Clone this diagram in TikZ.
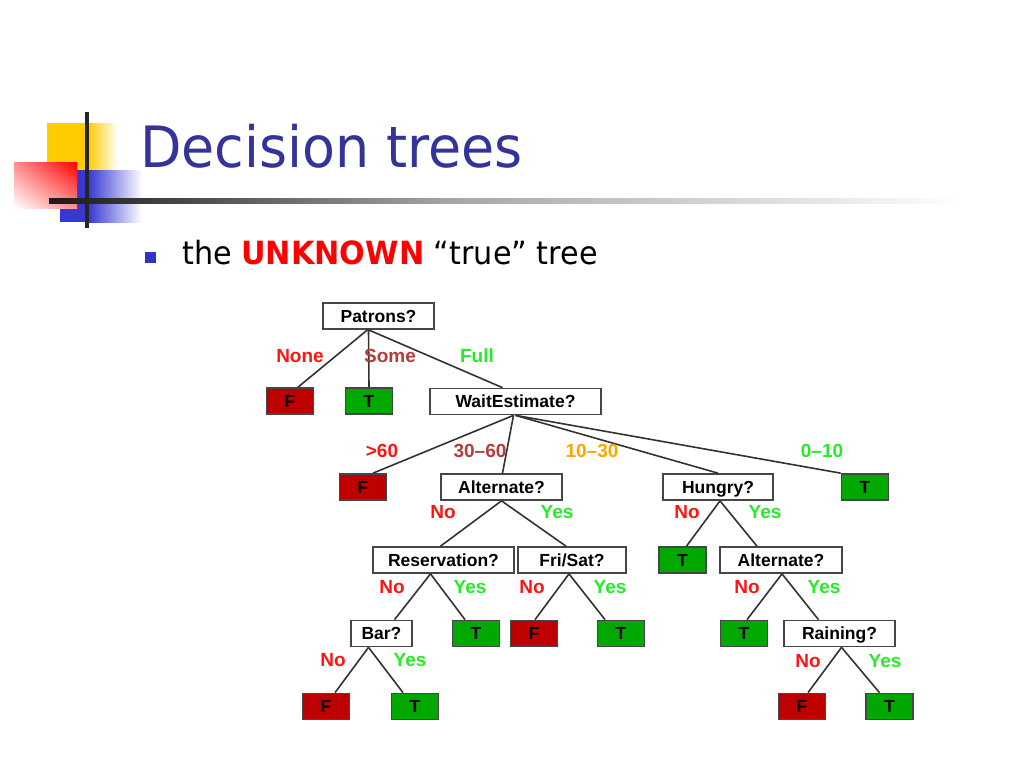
\documentclass[tikz,border=0pt]{standalone}
\usepackage{fontspec}
\usetikzlibrary{shadings}
\setmainfont{Liberation Sans}
\newfontfamily\slidefont[FakeStretch=1.05]{DejaVu Sans Condensed}
\definecolor{leafred}{RGB}{190,0,0}
\definecolor{leafgreen}{RGB}{0,168,0}
\definecolor{boxgray}{RGB}{70,70,70}
\definecolor{edgegray}{RGB}{50,50,50}
\definecolor{labred}{RGB}{255,20,20}
\definecolor{labgreen}{RGB}{40,235,40}
\definecolor{labbrown}{RGB}{180,60,60}
\definecolor{laborange}{RGB}{255,165,0}
\definecolor{titleblue}{RGB}{51,51,153}
\definecolor{bulletblue}{RGB}{51,51,204}
\definecolor{decoyellow}{RGB}{255,204,0}
\definecolor{decoblue}{RGB}{55,55,210}

\begin{document}
\begin{tikzpicture}[x=1pt,y=-1pt,
        box/.style={draw=boxgray,line width=1.7pt,fill=white,minimum height=26pt,inner sep=0pt,text height=12.5pt,text depth=0pt,font=\fontsize{17.5}{20}\selectfont\bfseries},
        leaf_F/.style={box,fill=leafred,minimum width=47pt},
        leaf_T/.style={box,fill=leafgreen,minimum width=47pt},
        lab/.style={inner sep=0pt,font=\fontsize{19}{22}\selectfont\bfseries},
        edge/.style={draw=edgegray,line width=1.6pt}]
        \useasboundingbox (0,0) rectangle (1024,768);
        \fill[decoyellow] (47,123) rectangle (88,185);
        \shade[left color=decoyellow,right color=white] (88,123) rectangle (118,185);
        \fill[decoblue] (60,170) rectangle (88,222);
        \shade[left color=decoblue,right color=white] (88,170) rectangle (142,222);
        \shade[upper left=red!45,upper right=red,lower left=white,lower right=red!45] (14,162) rectangle (77,208);
        \shade[left color=black!90,right color=black!35] (49,198) rectangle (450,203);
        \shade[left color=black!35,right color=white] (450,198) rectangle (962,203);
        \fill[black!85] (85,112) rectangle (89,228);
        \node[anchor=base west,inner sep=0pt,text=titleblue,font=\slidefont\fontsize{57}{60}\selectfont] (Title) at (140,167) {Decision trees};
        \fill[bulletblue] (145,252) rectangle (156,263);
        \node[anchor=base west,inner sep=0pt,font=\slidefont\fontsize{32}{36}\selectfont] (Bullet) at (182,264) {the \textcolor{red}{\bfseries UNKNOWN} “true” tree};
        \node[box,minimum width=111pt] (Patrons) at (378.5,316) {Patrons?};
        \node[leaf_F] (F_none) at (290,401) {F};
        \node[leaf_T] (T_some) at (369,401) {T};
        \node[box,minimum width=171pt] (Wait_estimate) at (515.5,401.5) {WaitEstimate?};
        \node[leaf_F] (F_over60) at (363,487) {F};
        \node[box,minimum width=121pt] (Alternate) at (501.5,487) {Alternate?};
        \node[box,minimum width=110pt] (Hungry) at (718,487) {Hungry?};
        \node[leaf_T] (T_under10) at (865,487) {T};
        \node[box,minimum width=141pt] (Reservation) at (443.5,560) {Reservation?};
        \node[box,minimum width=108pt] (Fri_sat) at (572,560) {Fri/Sat?};
        \node[leaf_T] (T_hungry) at (682.5,560) {T};
        \node[box,minimum width=122pt] (Alternate_two) at (781,560) {Alternate?};
        \node[box,minimum width=61pt] (Bar) at (381.5,633.5) {Bar?};
        \node[leaf_T] (T_reservation) at (476,633.5) {T};
        \node[leaf_F] (F_fri_sat) at (534,633.5) {F};
        \node[leaf_T] (T_fri_sat) at (621,633.5) {T};
        \node[leaf_T] (T_alternate) at (744,633.5) {T};
        \node[box,minimum width=111pt] (Raining) at (839.5,633.5) {Raining?};
        \node[leaf_F] (F_bar) at (326,706.5) {F};
        \node[leaf_T] (T_bar) at (415,706.5) {T};
        \node[leaf_F] (F_raining) at (802,706.5) {F};
        \node[leaf_T] (T_raining) at (889.5,706.5) {T};
        \draw[edge] ([xshift=-11pt]Patrons.south) -- ([xshift=8pt]F_none.north);
        \draw[edge] ([xshift=-10pt]Patrons.south) -- (T_some.north);
        \draw[edge] ([xshift=-10pt]Patrons.south) -- ([xshift=-13pt]Wait_estimate.north);
        \draw[edge] ([xshift=-2pt]Wait_estimate.south) -- ([xshift=10pt]F_over60.north);
        \draw[edge] ([xshift=-2pt]Wait_estimate.south) -- ([xshift=1pt]Alternate.north);
        \draw[edge] (Wait_estimate.south) -- (Hungry.north);
        \draw[edge] (Wait_estimate.south) -- (T_under10.north west);
        \draw[edge] (Alternate.south) -- ([xshift=-3pt]Reservation.north);
        \draw[edge] (Alternate.south) -- ([xshift=-6pt]Fri_sat.north);
        \draw[edge] ([xshift=2pt]Hungry.south) -- ([xshift=4pt]T_hungry.north);
        \draw[edge] ([xshift=2pt]Hungry.south) -- ([xshift=-24pt]Alternate_two.north);
        \draw[edge] ([xshift=-13pt]Reservation.south) -- ([xshift=13pt]Bar.north);
        \draw[edge] ([xshift=-13pt]Reservation.south) -- ([xshift=-11pt]T_reservation.north);
        \draw[edge] ([xshift=-3pt]Fri_sat.south) -- ([xshift=1pt]F_fri_sat.north);
        \draw[edge] ([xshift=-3pt]Fri_sat.south) -- ([xshift=-16pt]T_fri_sat.north);
        \draw[edge] ([xshift=1pt]Alternate_two.south) -- ([xshift=3pt]T_alternate.north);
        \draw[edge] ([xshift=1pt]Alternate_two.south) -- ([xshift=-21pt]Raining.north);
        \draw[edge] ([xshift=-13pt]Bar.south) -- ([xshift=9pt]F_bar.north);
        \draw[edge] ([xshift=-13pt]Bar.south) -- ([xshift=-12pt]T_bar.north);
        \draw[edge] ([xshift=2pt]Raining.south) -- ([xshift=6pt]F_raining.north);
        \draw[edge] ([xshift=2pt]Raining.south) -- ([xshift=-10pt]T_raining.north);
        \node[lab,text=labred] (Lab_none) at (300,356) {None};
        \node[lab,text=labbrown] (Lab_some) at (390,356) {Some};
        \node[lab,text=labgreen] (Lab_full) at (477,356) {Full};
        \node[lab,text=labred] (Lab_over60) at (382,451) {>60};
        \node[lab,text=labbrown] (Lab_30_60) at (480,451) {30--60};
        \node[lab,text=laborange] (Lab_10_30) at (592,451) {10--30};
        \node[lab,text=labgreen] (Lab_0_10) at (822,451) {0--10};
        \node[lab,text=labred] (No_alternate) at (443,512) {No};
        \node[lab,text=labgreen] (Yes_alternate) at (557,512) {Yes};
        \node[lab,text=labred] (No_hungry) at (687,512) {No};
        \node[lab,text=labgreen] (Yes_hungry) at (765,512) {Yes};
        \node[lab,text=labred] (No_reservation) at (392,587) {No};
        \node[lab,text=labgreen] (Yes_reservation) at (470,587) {Yes};
        \node[lab,text=labred] (No_fri_sat) at (532,587) {No};
        \node[lab,text=labgreen] (Yes_fri_sat) at (610,587) {Yes};
        \node[lab,text=labred] (No_alternate_two) at (747,587) {No};
        \node[lab,text=labgreen] (Yes_alternate_two) at (824,587) {Yes};
        \node[lab,text=labred] (No_bar) at (333,660) {No};
        \node[lab,text=labgreen] (Yes_bar) at (410,660) {Yes};
        \node[lab,text=labred] (No_raining) at (808,661) {No};
        \node[lab,text=labgreen] (Yes_raining) at (885,661) {Yes};
    \end{tikzpicture}
\end{document}
